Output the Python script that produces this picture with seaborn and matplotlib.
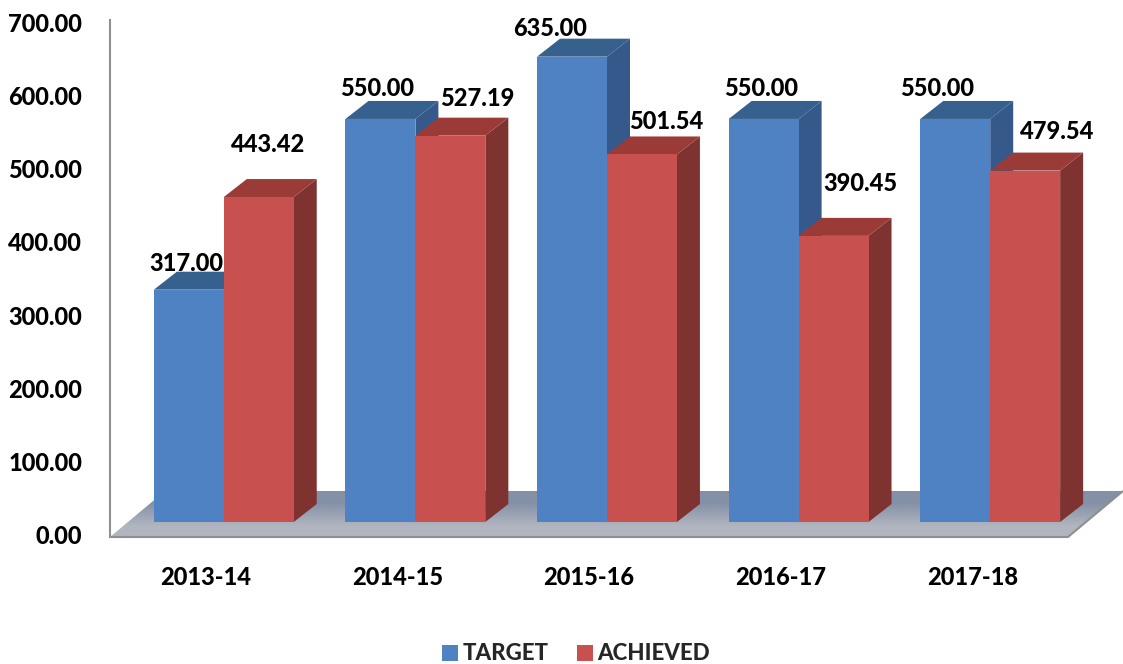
import numpy as np
import pandas as pd
import matplotlib
matplotlib.use("Agg")
import matplotlib.pyplot as plt
from matplotlib.colors import LinearSegmentedColormap
from matplotlib.patches import Polygon
from matplotlib.transforms import Affine2D
import seaborn as sns

years = ["2013-14", "2014-15", "2015-16", "2016-17", "2017-18"]
target = [317.00, 550.00, 635.00, 550.00, 550.00]
achieved = [443.42, 527.19, 501.54, 390.45, 479.54]
y_ticks = [0, 100, 200, 300, 400, 500, 600, 700]

# label offsets from the front top-centre of each bar, in pixels
target_label_offset = [(-2, 26), (-3, 30), (-22, 28), (-3, 30), (-18, 30)]
achieved_label_offset = [(9, 53), (27, 37), (24, 33), (27, 52), (32, 39)]

df = pd.DataFrame({
    "year": years * 2,
    "series": ["TARGET"] * 5 + ["ACHIEVED"] * 5,
    "value": target + achieved,
})

WEIGHT = 900

sns.set_theme(style="white")
plt.rcParams["font.family"] = ["Lato", "DejaVu Sans"]
plt.rcParams["font.weight"] = WEIGHT

W, H = 1123, 664
fig = plt.figure(figsize=(W / 100, H / 100), dpi=100)
ax = fig.add_axes([110 / W, (H - 537) / H, 958 / W, 517 / H])

BLUE, RED = "#4F82C3", "#C85150"
SIDE = {BLUE: "#35598A", RED: "#7E3331"}
TOP = {BLUE: "#36618F", RED: "#9B3B38"}

sns.barplot(data=df, x="year", y="value", hue="series", palette=[BLUE, RED],
            width=0.73, gap=0, saturation=1, ax=ax, linewidth=0)

ax.set_xlim(-0.5, 4.5)
ax.set_ylim(0, 705.5)
px_x = 5 / 958              # data units per pixel
px_y = 705.5 / 517

# fake 3D: push the bars back onto the floor, then add side and top faces
blue_bars, red_bars = list(ax.containers[0]), list(ax.containers[1])
bars = [p for pair in zip(blue_bars, red_bars) for p in pair]
for i, p in enumerate(bars):
    p.set_x(p.get_x() + 18 * px_x)
    p.set_y(p.get_y() + 15 * px_y)
    x0, x1 = p.get_x(), p.get_x() + p.get_width()
    y0, y1 = p.get_y(), p.get_y() + p.get_height()
    dx, dy = 23 * px_x, 18 * px_y
    color = BLUE if i % 2 == 0 else RED
    z = 3 + i
    p.set_zorder(z + 0.2)
    p.set_clip_on(False)
    ax.add_patch(Polygon([(x1, y0), (x1 + dx, y0 + dy), (x1 + dx, y1 + dy), (x1, y1)],
                         facecolor=SIDE[color], edgecolor="none", zorder=z, clip_on=False))
    ax.add_patch(Polygon([(x0, y1), (x0 + dx, y1 + dy), (x1 + dx, y1 + dy), (x1, y1)],
                         facecolor=TOP[color], edgecolor="none", zorder=z + 0.1, clip_on=False))

# floor
floor_dx, floor_dy = 55 * px_x, 46 * px_y
floor = Polygon([(-0.5, 0), (4.5, 0), (4.5 + floor_dx, floor_dy), (-0.5 + floor_dx, floor_dy)],
                transform=ax.transData, facecolor="none", edgecolor="none")
ax.add_patch(floor)
floor.set_clip_on(False)
im = ax.imshow(np.array([[0.0], [1.0]]), extent=(-0.5, 4.5 + floor_dx, 0, floor_dy), aspect="auto",
               cmap=LinearSegmentedColormap.from_list("floor", ["#B0B5BF", "#8490A6"]),
               origin="lower", interpolation="bilinear", zorder=1)
im.set_clip_box(fig.bbox)
im.set_clip_path(floor)
ax.plot([-0.5, 4.5, 4.5 + floor_dx], [0, 0, floor_dy], color="#8F8F8F", lw=1.5,
        zorder=1.5, clip_on=False, solid_capstyle="butt")
ax.set_xlim(-0.5, 4.5)
ax.set_ylim(0, 705.5)

# data labels
for i, p in enumerate(bars):
    n = i // 2
    if i % 2 == 0:
        off, val = target_label_offset[n], target[n]
    else:
        off, val = achieved_label_offset[n], achieved[n]
    ax.annotate(f"{val:.2f}", xy=(p.get_x() + p.get_width() / 2, p.get_y() + p.get_height()),
                xytext=off, textcoords="offset pixels", ha="center", va="center",
                fontsize=17, fontweight=WEIGHT, color="black", zorder=50,
                annotation_clip=False)

ax.set_yticks(y_ticks)
ax.set_yticklabels([f"{v:.2f}" for v in y_ticks])
ax.set_xlabel("")
ax.set_ylabel("")
ax.tick_params(axis="y", length=0, pad=20, labelsize=17)
ax.tick_params(axis="x", length=0, pad=21, labelsize=17)
for lab in ax.get_xticklabels() + ax.get_yticklabels():
    lab.set_fontweight(WEIGHT)
    lab.set_color("black")
# nudge the y labels up a touch
for lab in ax.get_yticklabels():
    lab.set_transform(lab.get_transform() + Affine2D().translate(0, 2))

sns.despine(ax=ax, top=True, right=True, bottom=True)
ax.spines["left"].set_color("#8F8F8F")
ax.spines["left"].set_linewidth(1.5)
ax.patch.set_alpha(0)

sns.move_legend(ax, "center", bbox_to_anchor=(576 / W, (H - 654) / H),
                bbox_transform=fig.transFigure, ncol=2, frameon=False, title=None,
                fontsize=16, handlelength=0.72, handleheight=0.72, columnspacing=1.25,
                handletextpad=0.2, prop={"size": 16, "weight": WEIGHT})

fig.savefig("out.png", dpi=100)
